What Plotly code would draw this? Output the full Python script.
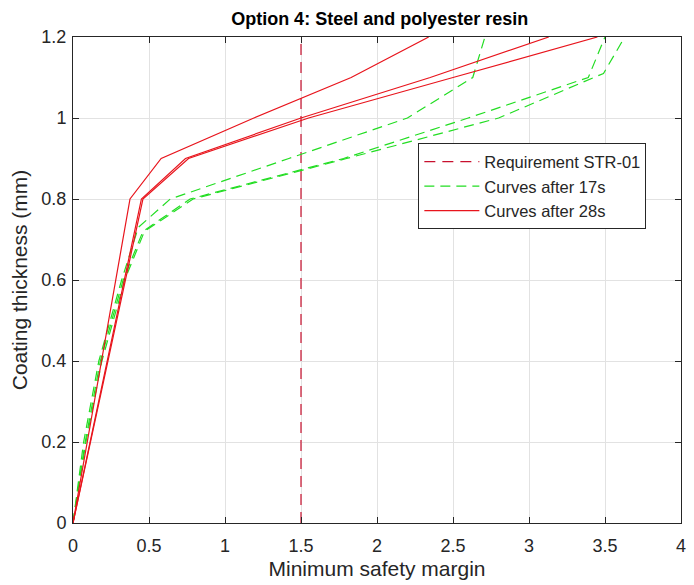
import plotly.graph_objects as go

# Safety margin (x) vs coating thickness (y) for each simulated curve
thick_28a = [0, 0.8, 0.9, 1.0, 1.1, 1.2]
margin_28a = [0, 0.375, 0.58, 1.19, 1.83, 2.34]
thick_28b = [0, 0.8, 0.9, 1.0, 1.1, 1.2]
margin_28b = [0, 0.45, 0.74, 1.5, 2.35, 3.13]
thick_28c = [0, 0.8, 0.9, 1.0, 1.1, 1.2]
margin_28c = [0, 0.46, 0.76, 1.55, 2.5, 3.45]

thick_17a = [0, 0.2, 0.4, 0.6, 0.73, 0.8, 0.9, 1.0, 1.1, 1.2]
margin_17a = [0, 0.07, 0.17, 0.32, 0.43, 0.64, 1.42, 2.2, 2.63, 2.71]
thick_17b = [0, 0.2, 0.4, 0.6, 0.72, 0.8, 0.9, 1.0, 1.1, 1.2]
margin_17b = [0, 0.08, 0.18, 0.33, 0.46, 0.77, 1.78, 2.6, 3.39, 3.5]
thick_17c = [0, 0.2, 0.4, 0.6, 0.72, 0.8, 0.9, 1.0, 1.11, 1.2]
margin_17c = [0, 0.085, 0.19, 0.34, 0.47, 0.79, 1.8, 2.8, 3.49, 3.63]

requirement = 1.5
y_range = [0, 1.2]

x_ticks = [0, 0.5, 1, 1.5, 2, 2.5, 3, 3.5, 4]
x_tick_text = ["0", "0.5", "1", "1.5", "2", "2.5", "3", "3.5", "4"]
y_ticks = [0, 0.2, 0.4, 0.6, 0.8, 1.0, 1.2]
y_tick_text = ["0", "0.2", "0.4", "0.6", "0.8", "1", "1.2"]

RED = "#e8141c"
REQ_RED = "#c8102e"
GREEN = "#22dd22"
FONT = "Liberation Sans, Arial, sans-serif"
INK = "#262626"

fig = go.Figure()

fig.add_trace(go.Scatter(
    x=[requirement, requirement], y=y_range, mode="lines",
    line=dict(color=REQ_RED, width=1.2, dash="11px,7px"),
    name="Requirement STR-01", legendgroup="req", showlegend=True,
))

green_curves = [(margin_17a, thick_17a), (margin_17b, thick_17b), (margin_17c, thick_17c)]
for i, (mx, ty) in enumerate(green_curves):
    fig.add_trace(go.Scatter(
        x=mx, y=ty, mode="lines",
        line=dict(color=GREEN, width=1.2, dash="10px,6px"),
        name="Curves after 17s", legendgroup="g17", showlegend=(i == 0),
    ))

red_curves = [(margin_28a, thick_28a), (margin_28b, thick_28b), (margin_28c, thick_28c)]
for i, (mx, ty) in enumerate(red_curves):
    fig.add_trace(go.Scatter(
        x=mx, y=ty, mode="lines",
        line=dict(color=RED, width=1.2),
        name="Curves after 28s", legendgroup="r28", showlegend=(i == 0),
    ))

axis_common = dict(
    showline=True, linecolor=INK, linewidth=1, mirror="ticks",
    ticks="inside", ticklen=6, tickcolor=INK, tickwidth=1,
    showgrid=True, gridcolor="#e2e2e2", gridwidth=1,
    zeroline=False, tickfont=dict(family=FONT, size=18, color=INK),
)

fig.update_layout(
    width=694, height=585,
    margin=dict(l=73, r=8, t=37, b=62),
    paper_bgcolor="white", plot_bgcolor="white",
    font=dict(family=FONT, color=INK),
    title=dict(
        text="<b>Option 4: Steel and polyester resin</b>",
        font=dict(family=FONT, size=18, color="black"),
        x=0.5471, xanchor="center", y=1 - 19 / 585, yanchor="middle",
    ),
    xaxis=dict(
        range=[0, 4], tickvals=x_ticks, ticktext=x_tick_text,
        ticklabelstandoff=6,
        title=dict(text="Minimum safety margin", font=dict(family=FONT, size=21, color=INK), standoff=6),
        **axis_common,
    ),
    yaxis=dict(
        range=y_range, tickvals=y_ticks, ticktext=y_tick_text,
        ticklabelstandoff=2,
        title=dict(text="Coating thickness (mm)", font=dict(family=FONT, size=21, color=INK), standoff=8),
        **axis_common,
    ),
    legend=dict(
        x=0.568, y=0.781, xanchor="left", yanchor="top",
        bgcolor="white", bordercolor=INK, borderwidth=1,
        font=dict(family=FONT, size=16.5, color=INK),
        itemwidth=55, tracegroupgap=0,
    ),
)

fig.write_html("out.html")
